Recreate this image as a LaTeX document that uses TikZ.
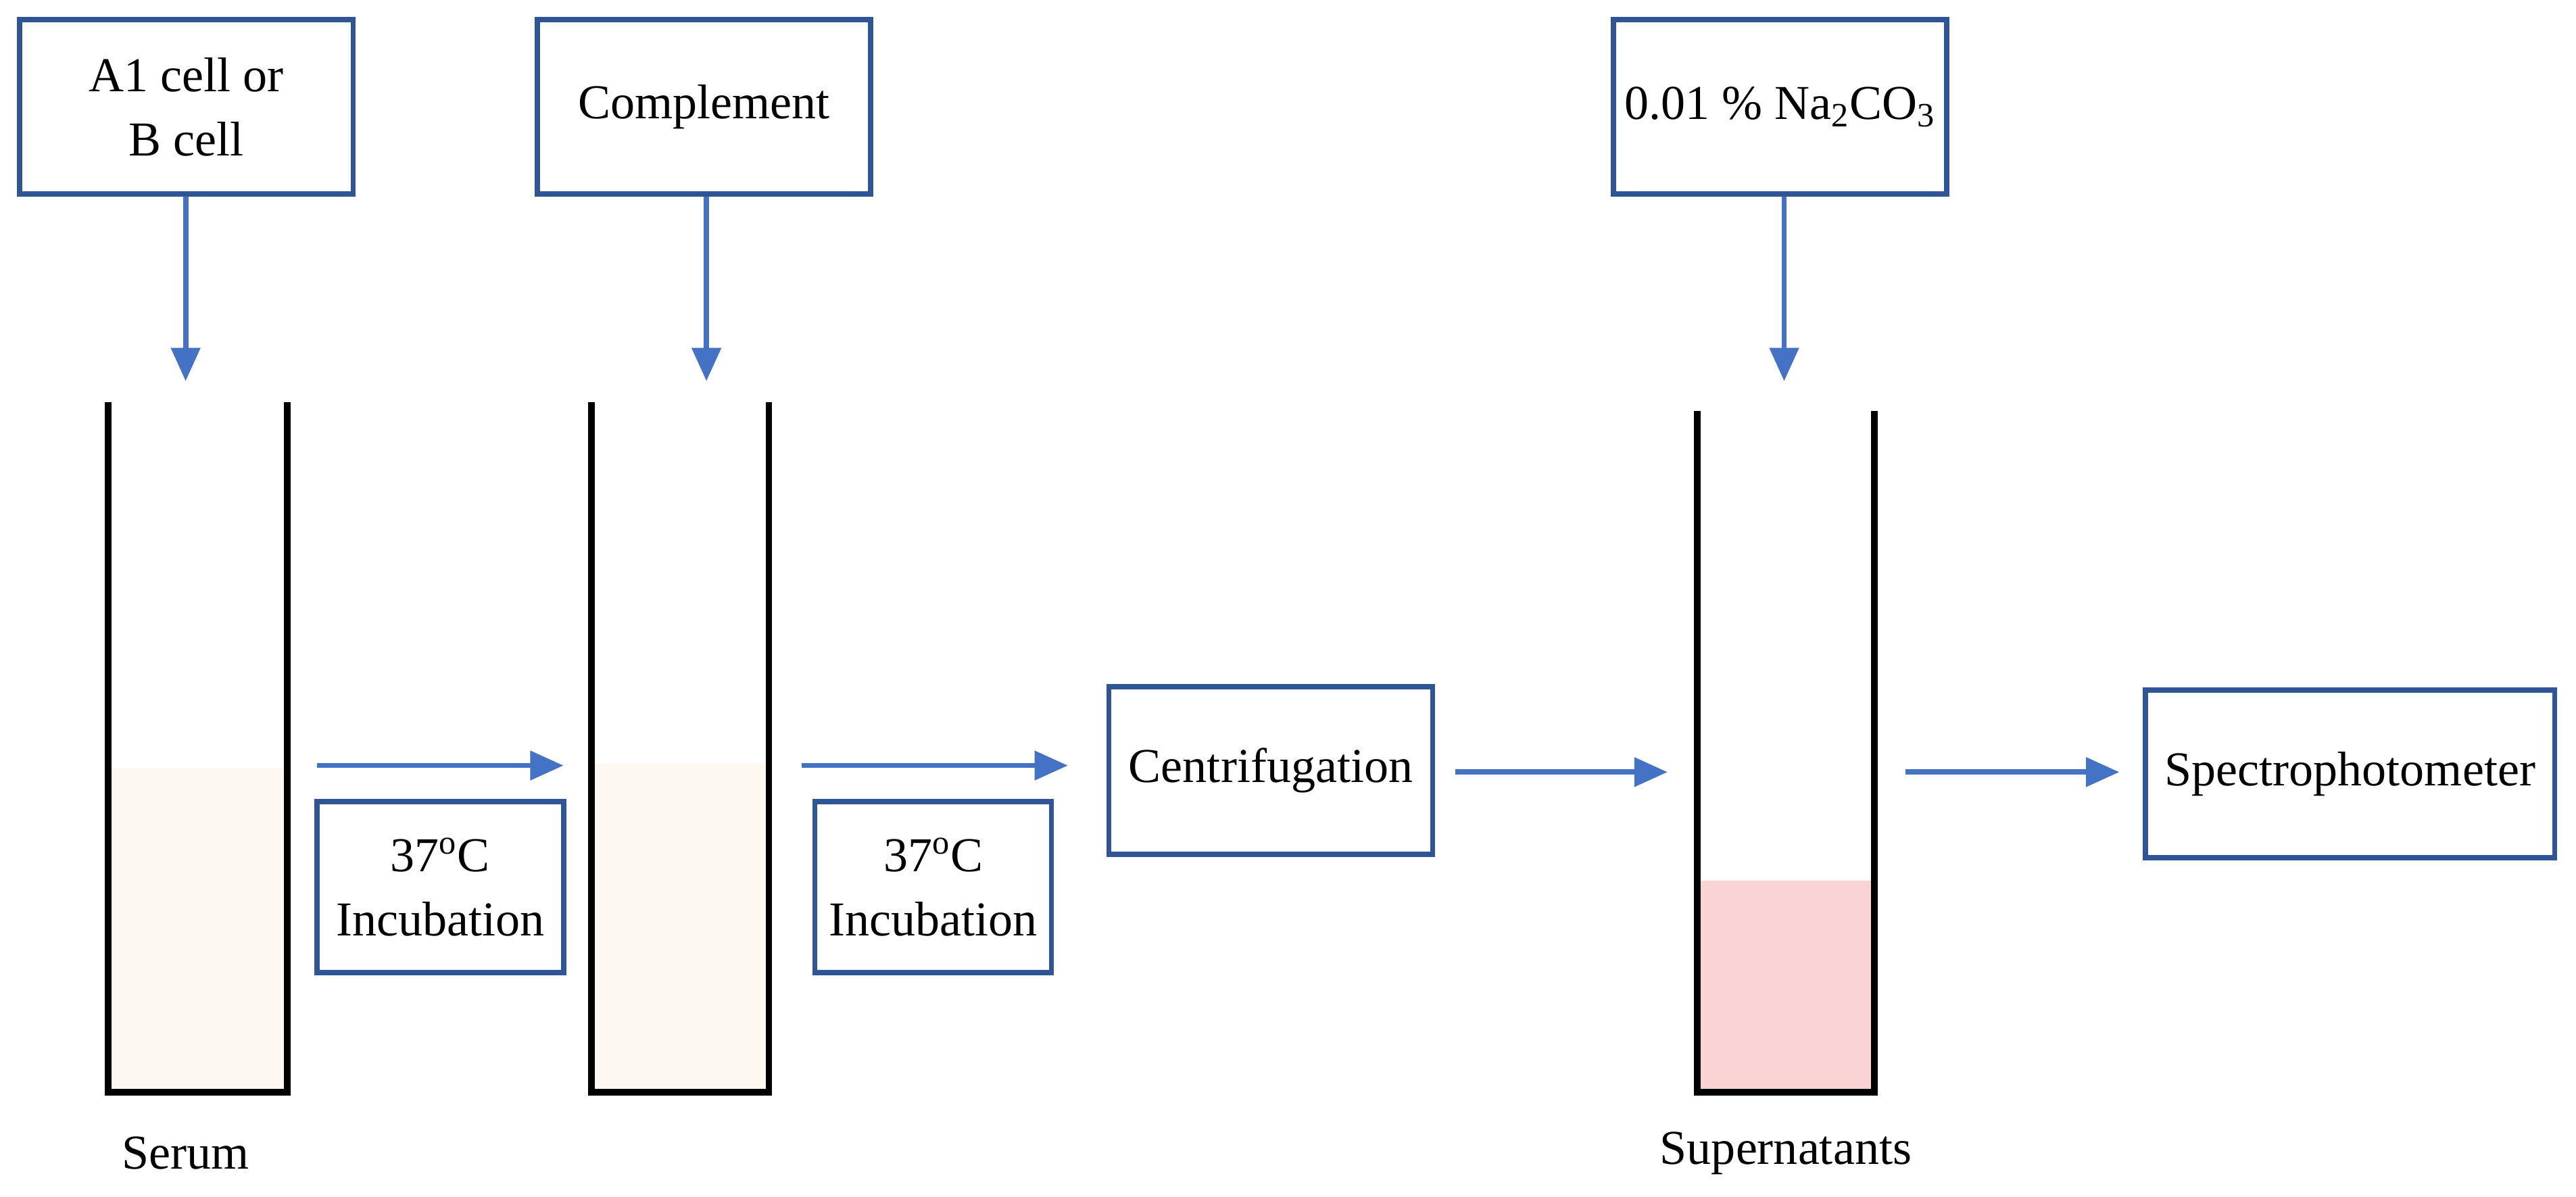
\documentclass[tikz,border=0pt]{standalone}
\usepackage{fontspec}
\setmainfont{Liberation Serif}
\usetikzlibrary{arrows.meta}
\definecolor{boxblue}{HTML}{2F5597}
\definecolor{arrblue}{HTML}{4472C4}
\definecolor{cream}{HTML}{FDF9F0}
\definecolor{pinkf}{HTML}{FAD4D4}
\begin{document}
\begin{tikzpicture}[x=0.0243cm,y=-0.0243cm,
 box/.style={draw=boxblue,line width=2.2pt,align=center,inner sep=0pt,font=\fontsize{20.5}{27}\selectfont},
 lab/.style={font=\fontsize{20.5}{27}\selectfont},
 arr/.style={draw=arrblue,line width=2.2pt,-{Triangle[length=14pt,width=12pt]}},
 tube/.style={draw=black,line width=2.8pt}]
\useasboundingbox (0,0) rectangle (1568,728.4);
% boxes
\node[box,minimum width=203*0.0243cm,minimum height=106*0.0243cm] (a1) at (113.5,65) {A1 cell or\\B cell};
\node[box,minimum width=203*0.0243cm,minimum height=106*0.0243cm] (comp) at (428.5,65) {Complement};
\node[box,minimum width=203*0.0243cm,minimum height=106*0.0243cm] (na) at (1083.5,65) {0.01 \% Na\textsubscript{2}CO\textsubscript{3}};
\node[box,minimum width=150*0.0243cm,minimum height=104*0.0243cm] (inc1) at (268,540) {37\textsuperscript{o}C\\Incubation};
\node[box,minimum width=144*0.0243cm,minimum height=104*0.0243cm] (inc2) at (568,540) {37\textsuperscript{o}C\\Incubation};
\node[box,minimum width=197*0.0243cm,minimum height=102*0.0243cm] (cent) at (773.5,469) {Centrifugation};
\node[box,minimum width=249*0.0243cm,minimum height=102*0.0243cm] (spec) at (1430.5,471) {Spectrophotometer};
% tubes
\fill[cream] (66,468) rectangle (175,665);
\fill[cream] (360,465) rectangle (468,665);
\fill[pinkf] (1033,536) rectangle (1141,665);
\draw[tube] (66,245) -- (66,665) -- (175,665) -- (175,245);
\draw[tube] (360,245) -- (360,665) -- (468,665) -- (468,245);
\draw[tube] (1033,250) -- (1033,665) -- (1141,665) -- (1141,250);
\node[lab] (serum) at (113,702) {Serum};
\node[lab] (sup) at (1087,702) {Supernatants};
% arrows
\coordinate (t1) at (113,232); \coordinate (t2) at (430,232); \coordinate (t3) at (1086,232);
\draw[arr] (a1.south -| t1) -- (t1);
\draw[arr] (comp.south -| t2) -- (t2);
\draw[arr] (na.south -| t3) -- (t3);
\coordinate (h1a) at (193,466); \coordinate (h1b) at (343,466);
\coordinate (h2a) at (488,466); \coordinate (h2b) at (650,466);
\coordinate (h3a) at (886,470); \coordinate (h3b) at (1015,470);
\coordinate (h4a) at (1160,470); \coordinate (h4b) at (1290,470);
\draw[arr] (h1a) -- (h1b);
\draw[arr] (h2a) -- (h2b);
\draw[arr] (h3a) -- (h3b);
\draw[arr] (h4a) -- (h4b);
\end{tikzpicture}
\end{document}
